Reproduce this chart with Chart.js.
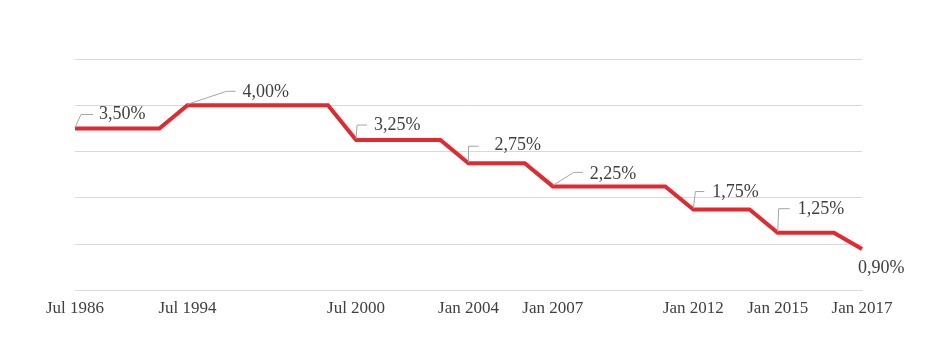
<!DOCTYPE html>
<html>
<head>
<meta charset="utf-8">
<script src="https://cdn.jsdelivr.net/npm/chart.js@4/dist/chart.umd.min.js"></script>
<style>
  html, body { margin: 0; padding: 0; background: #fff; }
  #wrap { width: 943px; height: 360px; }
</style>
</head>
<body>
<div id="wrap"><canvas id="rate-chart"></canvas></div>
<script>
// 29 evenly spaced categories, only some carry a tick label
const categories = [
    'Jul 1986', '', '', '', 'Jul 1994', '', '', '', '', '', 'Jul 2000', '', '', '', 'Jan 2004',
    '', '', 'Jan 2007', '', '', '', '', 'Jan 2012', '', '', 'Jan 2015', '', '', 'Jan 2017'
];
const rateValues = [
    3.5, 3.5, 3.5, 3.5,
    4, 4, 4, 4, 4, 4,
    3.25, 3.25, 3.25, 3.25,
    2.75, 2.75, 2.75,
    2.25, 2.25, 2.25, 2.25, 2.25,
    1.75, 1.75, 1.75,
    1.25, 1.25, 1.25,
    0.9
];
// indices of the points that get a value label
const labelIndices = [0, 4, 10, 14, 17, 22, 25, 28];
const yTicks = [0, 1, 2, 3, 4, 5];

// label placement relative to the point (leader elbow, leader end, text left)
const labelStyle = {
    0:  { ex: 6,  ey: -14, hx: 18, tx: 24, ty: -14 },
    4:  { ex: 39, ey: -14, hx: 48, tx: 55, ty: -13 },
    10: { ex: 1,  ey: -15, hx: 11, tx: 18, ty: -15 },
    14: { ex: 0,  ey: -17, hx: 10, tx: 26, ty: -18 },
    17: { ex: 21, ey: -14, hx: 30, tx: 37, ty: -12 },
    22: { ex: 2,  ey: -18, hx: 11, tx: 19, ty: -17 },
    25: { ex: 1,  ey: -24, hx: 12, tx: 20, ty: -23 },
    28: { tx: -4, ty: 19 }
};

const fontFamily = "'Liberation Serif', 'Times New Roman', serif";
const textColor = '#404040';

function formatRate(v) {
    return v.toFixed(2).replace('.', ',') + '%';
}

// draws value labels with small leader lines
const valueLabels = {
    id: 'valueLabels',
    afterDatasetsDraw(chart) {
        const ctx = chart.ctx;
        const points = chart.getDatasetMeta(0).data;
        ctx.save();
        ctx.font = '18px ' + fontFamily;
        ctx.textBaseline = 'middle';
        ctx.textAlign = 'left';
        labelIndices.forEach(i => {
            const p = points[i];
            const s = labelStyle[i];
            if (s.ex !== undefined) {
                ctx.strokeStyle = '#a6a6a6';
                ctx.lineWidth = 1;
                ctx.beginPath();
                ctx.moveTo(p.x, p.y - 1);
                ctx.lineTo(p.x + s.ex, p.y + s.ey);
                ctx.lineTo(p.x + s.hx, p.y + s.ey);
                ctx.stroke();
            }
            ctx.fillStyle = textColor;
            ctx.fillText(formatRate(rateValues[i]), p.x + s.tx, p.y + s.ty);
        });
        ctx.restore();
    }
};

new Chart(document.getElementById('rate-chart'), {
    type: 'line',
    data: {
        labels: categories,
        datasets: [{
            data: rateValues,
            borderColor: '#e3292e',
            borderWidth: 4,
            pointRadius: 0,
            tension: 0,
            fill: false
        }]
    },
    options: {
        responsive: true,
        maintainAspectRatio: false,
        animation: false,
        layout: {
            padding: { left: 75, right: 81, top: 59, bottom: 33 }
        },
        plugins: {
            legend: { display: false },
            tooltip: { enabled: false }
        },
        scales: {
            x: {
                offset: false,
                grid: { display: false, drawTicks: false },
                border: { display: true, color: '#d9d9d9', width: 1 },
                ticks: {
                    autoSkip: false,
                    maxRotation: 0,
                    padding: 8,
                    color: textColor,
                    font: { family: fontFamily, size: 17 }
                }
            },
            y: {
                min: yTicks[0],
                max: yTicks[yTicks.length - 1],
                afterBuildTicks(scale) {
                    scale.ticks = yTicks.map(v => ({ value: v }));
                },
                grid: { color: '#d9d9d9', drawTicks: false },
                border: { display: false },
                ticks: { display: false }
            }
        }
    },
    plugins: [valueLabels]
});
</script>
</body>
</html>
